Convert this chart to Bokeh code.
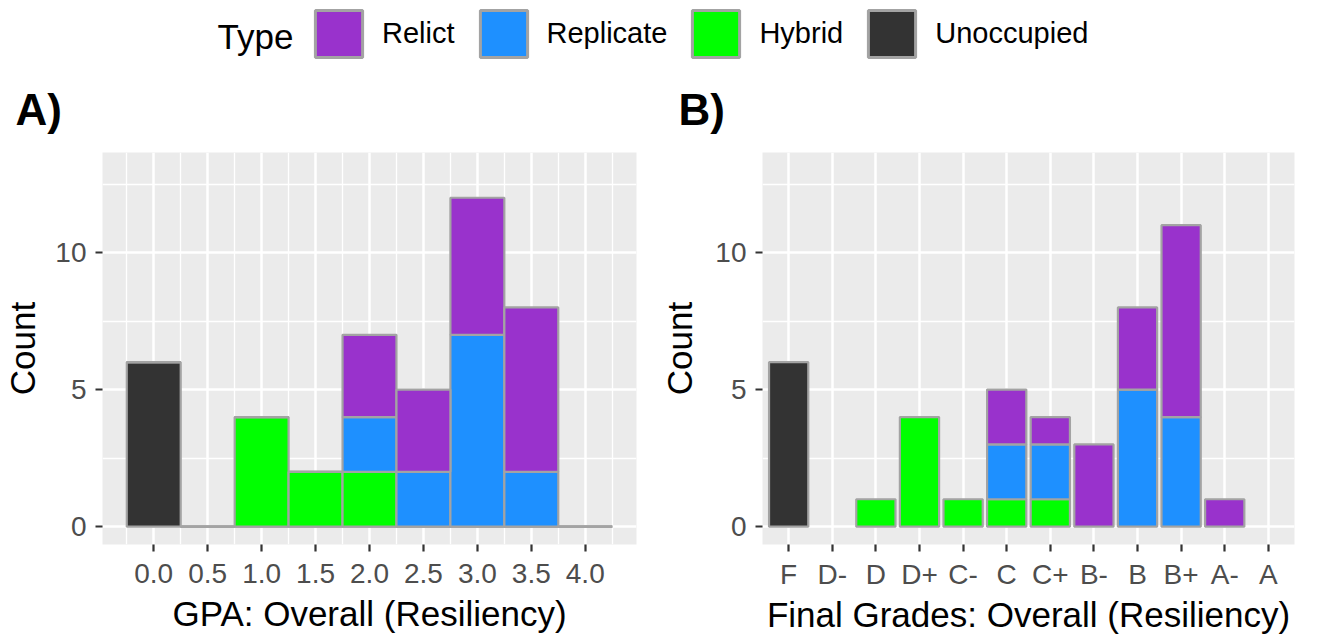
from bokeh.plotting import figure
from bokeh.models import (ColumnDataSource, Range1d, FactorRange, FixedTicker,
                          NumeralTickFormatter, Legend, LegendItem, Label)
from bokeh.layouts import column, row
from bokeh.embed import file_html
from bokeh.resources import INLINE

# ---------------- data ----------------
types = ["Relict", "Replicate", "Hybrid", "Unoccupied"]
type_colors = ["#9932CC", "#1E90FF", "#00FF00", "#333333"]
stack_order = ["Unoccupied", "Hybrid", "Replicate", "Relict"]  # bottom -> top

# Panel A: GPA histogram (bin centres, width 0.5)
gpa_bins = [0.0, 0.5, 1.0, 1.5, 2.0, 2.5, 3.0, 3.5, 4.0]
gpa_relict = [0, 0, 0, 0, 3, 3, 5, 6, 0]
gpa_replicate = [0, 0, 0, 0, 2, 2, 7, 2, 0]
gpa_hybrid = [0, 0, 4, 2, 2, 0, 0, 0, 0]
gpa_unoccupied = [6, 0, 0, 0, 0, 0, 0, 0, 0]

# Panel B: final grades
grades = ["F", "D-", "D", "D+", "C-", "C", "C+", "B-", "B", "B+", "A-", "A"]
grade_relict = [0, 0, 0, 0, 0, 2, 1, 3, 3, 7, 1, 0]
grade_replicate = [0, 0, 0, 0, 0, 2, 2, 0, 5, 4, 0, 0]
grade_hybrid = [0, 0, 1, 4, 1, 1, 1, 0, 0, 0, 0, 0]
grade_unoccupied = [6, 0, 0, 0, 0, 0, 0, 0, 0, 0, 0, 0]

count_ticks = [0, 5, 10]
count_minor = [2.5, 7.5, 12.5]

gpa_counts = {"Relict": gpa_relict, "Replicate": gpa_replicate,
              "Hybrid": gpa_hybrid, "Unoccupied": gpa_unoccupied}
grade_counts = {"Relict": grade_relict, "Replicate": grade_replicate,
                "Hybrid": grade_hybrid, "Unoccupied": grade_unoccupied}
color_of = dict(zip(types, type_colors))

# ---------------- styling ----------------
FONT = "Liberation Sans"
OUTLINE = "#A3A3A3"
BIN_W = 0.5
BAR_W = 0.9
Y0, Y1 = -0.65, 13.65


def style(p):
    p.background_fill_color = "#EBEBEB"
    p.border_fill_color = "white"
    p.outline_line_color = None
    for ax in p.axis:
        ax.axis_line_color = None
        ax.major_tick_line_color = "#333333"
        ax.major_tick_line_width = 2.2
        ax.major_tick_in = 0
        ax.major_tick_out = 7
        ax.minor_tick_line_color = None
        ax.major_label_text_font = FONT
        ax.major_label_text_font_size = "28px"
        ax.major_label_text_color = "#4D4D4D"
        ax.axis_label_text_font = FONT
        ax.axis_label_text_font_size = "35px"
        ax.axis_label_text_font_style = "normal"
        ax.axis_label_text_color = "black"
    p.grid.grid_line_color = "white"
    p.grid.grid_line_width = 2.5
    p.title.text_font = FONT
    p.title.text_font_size = "44px"
    p.title.text_font_style = "bold"
    p.title.text_color = "black"
    p.title.align = "left"
    p.title.standoff = 38


# ---------------- panel A ----------------
pA = figure(width=657, height=573, title="A)",
            x_range=Range1d(-0.475, 4.475), y_range=Range1d(Y0, Y1),
            toolbar_location=None, output_backend="svg",
            min_border_left=102, min_border_right=21,
            min_border_top=89, min_border_bottom=90)
bottom = [0] * len(gpa_bins)
for t in stack_order:
    top = [b + c for b, c in zip(bottom, gpa_counts[t])]
    src = ColumnDataSource(dict(x=gpa_bins, bottom=bottom, top=top))
    pA.vbar(x="x", bottom="bottom", top="top", width=BIN_W, source=src,
            fill_color=color_of[t], line_color=OUTLINE, line_width=2.2)
    bottom = top

gpa_minor = [b - BIN_W / 2 for b in gpa_bins] + [gpa_bins[-1] + BIN_W / 2]
pA.xaxis.ticker = FixedTicker(ticks=gpa_bins, minor_ticks=gpa_minor)
pA.xaxis.formatter = NumeralTickFormatter(format="0.0")
pA.yaxis.ticker = FixedTicker(ticks=count_ticks, minor_ticks=count_minor)
pA.xaxis.axis_label = "GPA: Overall (Resiliency)"
pA.yaxis.axis_label = "Count"
style(pA)
pA.xgrid.minor_grid_line_color = "white"
pA.xgrid.minor_grid_line_width = 1.3
pA.ygrid.minor_grid_line_color = "white"
pA.ygrid.minor_grid_line_width = 1.3
pA.xaxis.major_label_standoff = 12
pA.xaxis.axis_label_standoff = 8
pA.yaxis.major_label_standoff = 9
pA.yaxis.axis_label_standoff = 10
pA.title.offset = -87

# ---------------- panel B ----------------
pB = figure(width=660, height=573, title="B)",
            x_range=FactorRange(factors=grades, range_padding=0.1,
                                range_padding_units="absolute"),
            y_range=Range1d(Y0, Y1),
            toolbar_location=None, output_backend="svg",
            min_border_left=103, min_border_right=23,
            min_border_top=89, min_border_bottom=90)
bottom = [0] * len(grades)
for t in stack_order:
    counts = grade_counts[t]
    top = [b + c for b, c in zip(bottom, counts)]
    keep = [i for i, c in enumerate(counts) if c > 0]
    src = ColumnDataSource(dict(x=[grades[i] for i in keep],
                                bottom=[bottom[i] for i in keep],
                                top=[top[i] for i in keep]))
    pB.vbar(x="x", bottom="bottom", top="top", width=BAR_W, source=src,
            fill_color=color_of[t], line_color=OUTLINE, line_width=2.2)
    bottom = top

pB.yaxis.ticker = FixedTicker(ticks=count_ticks, minor_ticks=count_minor)
pB.xaxis.axis_label = "Final Grades: Overall (Resiliency)"
pB.yaxis.axis_label = "Count"
style(pB)
pB.ygrid.minor_grid_line_color = "white"
pB.ygrid.minor_grid_line_width = 1.3
pB.xaxis.major_label_standoff = 7
pB.xaxis.axis_label_standoff = 2
pB.yaxis.major_label_standoff = 9
pB.yaxis.axis_label_standoff = 13
pB.title.offset = -84

# ---------------- legend strip ----------------
pL = figure(width=1317, height=63, x_range=Range1d(0, 1317), y_range=Range1d(0, 63),
            x_axis_type=None, y_axis_type=None, toolbar_location=None,
            output_backend="svg", min_border=0)
pL.outline_line_color = None
pL.background_fill_color = "white"
pL.border_fill_color = "white"
items = []
for t in types:
    r = pL.vbar(x=gpa_bins, top=gpa_counts[t], width=BIN_W,
                fill_color=color_of[t], line_color=OUTLINE, line_width=3,
                visible=False)
    items.append(LegendItem(label=t, renderers=[r]))
legend = Legend(items=items, orientation="horizontal", location=(309, 0),
                glyph_width=59, glyph_height=59, label_standoff=14, spacing=19,
                padding=0, margin=0, border_line_color=None,
                background_fill_alpha=0, label_text_font=FONT,
                label_text_font_size="29px", label_text_color="black")
pL.add_layout(legend)
pL.add_layout(Label(x=217, y=27.5, text="Type", text_font=FONT,
                    text_font_size="35px", text_baseline="middle",
                    text_color="black"))

layout = column(pL, row(pA, pB))
open("out.html", "w").write(file_html(layout, INLINE))
